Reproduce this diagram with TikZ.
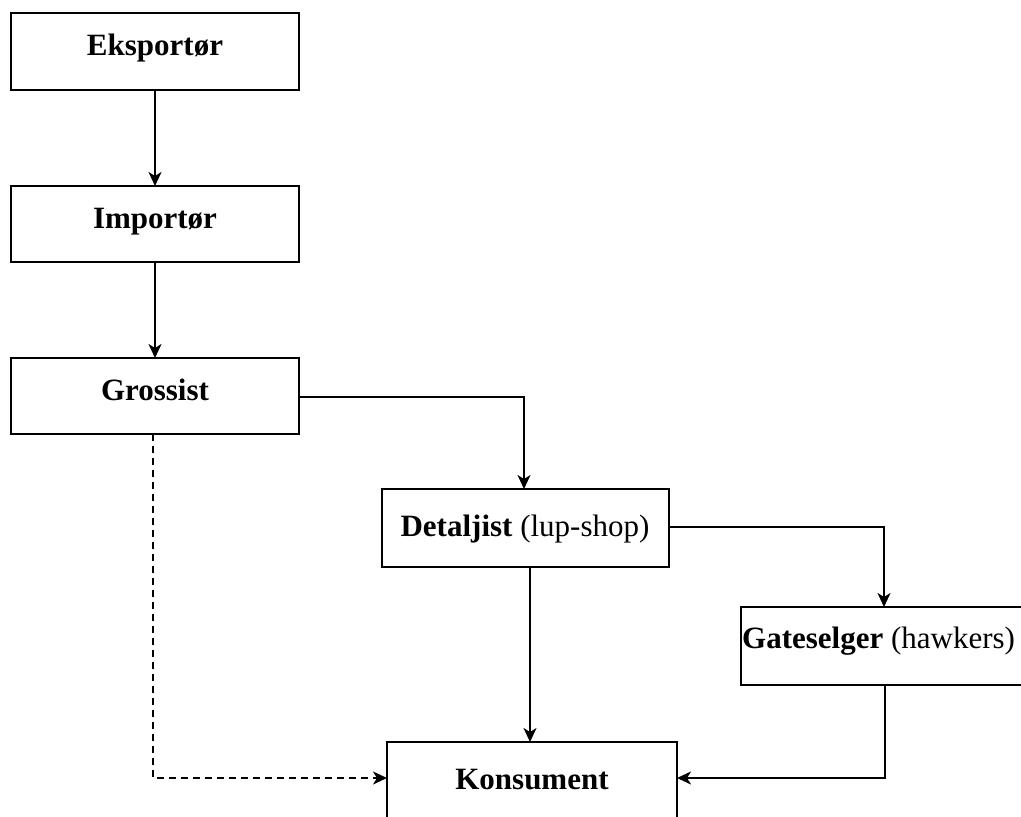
\documentclass[tikz,border=0pt]{standalone}
\usepackage{fontspec}
\setmainfont{Liberation Serif}
\usetikzlibrary{arrows.meta}
\begin{document}
\begin{tikzpicture}[x=1pt,y=-1pt,
  boxe/.style={draw,line width=2pt},
  lbl/.style={anchor=base,inner sep=0pt,font=\fontsize{31}{37}\selectfont},
  conn/.style={line width=1.8pt,-{Stealth[length=14pt,width=13pt,inset=4pt]}},
  dconn/.style={conn,dash pattern=on 7pt off 5pt}]
\useasboundingbox (0,0) rectangle (1021,817);
\clip (0,0) rectangle (1021,817);
\fill[white] (0,0) rectangle (1021,817);
% boxes
\draw[boxe] (11,13) rectangle (299,90);
\node[lbl] (eks) at (155,55) {\textbf{Eksportør}};
\coordinate (eksB) at (155,90);
\draw[boxe] (11,186) rectangle (299,262);
\node[lbl] (imp) at (155,228) {\textbf{Importør}};
\coordinate (impT) at (155,186);
\coordinate (impB) at (155,262);
\draw[boxe] (11,358) rectangle (299,434);
\node[lbl] (gro) at (155,400) {\textbf{Grossist}};
\coordinate (groT) at (155,358);
\coordinate (groR) at (299,397);
\coordinate (groB) at (153,434);
\draw[boxe] (382,489) rectangle (669,567);
\node[lbl] (det) at (525,536) {\textbf{Detaljist} (lup-shop)};
\coordinate (detT) at (524,489);
\coordinate (detR) at (669,527);
\coordinate (detB) at (530,567);
\draw[boxe] (741,607) rectangle (1030,685);
\node[lbl,anchor=base west] (gat) at (742,648) {\textbf{Gateselger} (hawkers)};
\coordinate (gatT) at (884,607);
\coordinate (gatB) at (885,685);
\draw[boxe] (387,742) rectangle (677,830);
\node[lbl] (kon) at (532,789) {\textbf{Konsument}};
\coordinate (konT) at (530,742);
\coordinate (konL) at (387,778);
\coordinate (konR) at (677,778);
% connectors
\draw[conn] (eksB) -- (impT);
\draw[conn] (impB) -- (groT);
\draw[conn] (groR) -| (detT);
\draw[conn] (detR) -| (gatT);
\draw[conn] (detB) -- (konT);
\draw[conn] (gatB) |- (konR);
\draw[dconn] (groB) |- (konL);
\end{tikzpicture}
\end{document}
